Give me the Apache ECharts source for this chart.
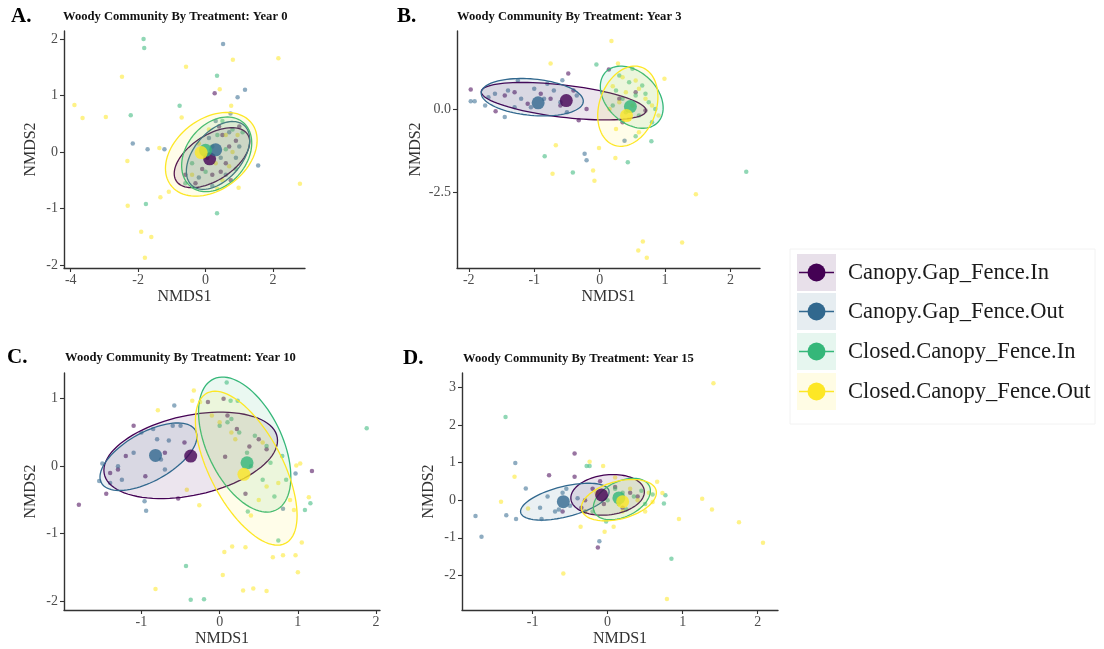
<!DOCTYPE html>
<html>
<head>
<meta charset="utf-8">
<script src="https://cdn.jsdelivr.net/npm/echarts@6/dist/echarts.min.js"></script>
<style>
  html, body { margin: 0; padding: 0; background: #fff; }
  #main { width: 1104px; height: 649px; }
</style>
</head>
<body>
<div id="main"></div>
<script>
// 分组名与颜色 (viridis)
const groups = ['Canopy.Gap_Fence.In', 'Canopy.Gap_Fence.Out', 'Closed.Canopy_Fence.In', 'Closed.Canopy_Fence.Out'];
const colors = ['#440154', '#31688E', '#35B779', '#FDE725'];

// ---- Year 0 ----
const y0GapIn = [[0.27,1.04],[0.5,0.3],[0.7,0.1],[0.2,-0.4],[-0.3,-0.55],[0.9,0.2],[0.6,-0.2],[-0.1,-0.3],[0.4,0.45],[0.75,-0.5],[0.05,-0.1],[1.0,0.45],[-0.6,-0.4],[0.45,-0.35]];
const y0GapOut = [[0.52,1.91],[1.17,1.1],[0.95,0.97],[-1.72,0.05],[-1.22,0.05],[1.56,-0.24],[-2.16,0.15],[0.74,0.68],[0.7,0.35],[0.3,0.55],[0.9,-0.1],[-0.2,-0.45],[0.45,-0.1],[1.0,0.1],[0.1,0.25],[0.6,-0.4],[0.2,-0.6]];
const y0ClosedIn = [[-1.84,2.0],[-1.82,1.84],[0.34,1.35],[-2.22,0.65],[0.34,-1.08],[-0.77,0.82],[-1.77,-0.92],[0.5,0.55],[0.8,0.4],[0.2,0.1],[0.6,0.05],[-0.4,-0.2],[0.9,-0.3],[0.0,-0.35],[0.35,0.3],[-0.6,-0.55],[1.1,0.35]];
const y0ClosedOut = [[-3.89,0.83],[-3.65,0.6],[-2.96,0.62],[-2.48,1.33],[-0.58,1.51],[0.81,1.63],[2.16,1.66],[0.42,1.11],[-0.71,0.61],[-2.32,-0.16],[-2.31,-0.95],[-1.91,-1.41],[-1.61,-1.5],[-1.8,-1.87],[-1.34,-0.8],[-1.09,-0.7],[-1.37,0.07],[0.98,-0.63],[0.76,0.82],[2.8,-0.56],[0.6,0.3],[0.3,-0.2],[0.8,0.0],[-0.2,0.15],[0.5,-0.5],[0.1,0.4],[0.95,0.3],[-0.4,-0.4],[0.35,-0.65],[0.7,-0.25]];
const y0Centroids = [[0.12,-0.12],[0.30,0.04],[0.0,0.03],[-0.13,-0.01]];
// 椭圆: [cx, cy, 半宽, 半高, 最右点的y偏移]
const y0Ellipses = [[0.19,-0.10,1.12,0.53,0.28],[0.37,-0.06,0.94,0.60,0.28],[0.33,-0.04,1.04,0.66,0.20],[0.17,-0.04,1.36,0.74,0.25]];

// ---- Year 3 ----
const y3GapIn = [[-1.97,0.58],[-0.48,1.06],[-0.32,-0.34],[-1.59,-0.07],[0.14,1.18],[-1.3,0.5],[-0.9,0.45],[-0.6,0.1],[-0.75,0.3],[-1.1,0.15],[-0.4,0.55],[-1.45,0.4],[0.3,0.3],[0.7,-0.05],[-0.2,0.0],[0.55,0.5],[0.35,-0.4]];
const y3GapOut = [[-1.97,0.23],[-1.91,0.23],[-1.75,0.1],[-1.45,-0.24],[-1.25,0.85],[-0.57,0.86],[-0.23,-1.34],[-0.2,-1.54],[0.38,-0.95],[-1.6,0.45],[-1.4,0.55],[-1.2,0.3],[-1.0,0.6],[-0.85,0.3],[-0.7,0.55],[-1.05,0.05],[-0.6,0.2],[-0.5,-0.1],[-1.3,0.05],[-0.8,0.75],[-0.35,0.4],[-1.7,0.35]];
const y3ClosedIn = [[-0.05,1.33],[-0.84,-1.42],[-0.41,-1.9],[0.43,-1.6],[0.55,-0.82],[0.79,-0.97],[2.24,-1.88],[0.3,1.0],[0.45,0.8],[0.65,0.7],[0.55,0.4],[0.35,0.3],[0.75,0.2],[0.6,-0.2],[0.25,0.55],[0.8,-0.4],[0.4,-0.1],[0.7,0.45],[0.2,0.1],[0.5,1.2],[0.85,0.0]];
const y3ClosedOut = [[0.18,2.03],[-0.75,1.36],[0.28,1.36],[0.99,0.9],[-0.67,-1.09],[-0.72,-1.94],[-0.01,-1.17],[-0.1,-1.84],[-0.08,-2.15],[0.24,-1.47],[1.47,-2.55],[0.66,-3.97],[0.59,-4.24],[0.72,-4.45],[1.26,-4.0],[0.2,0.68],[0.4,0.5],[0.6,0.6],[0.3,0.2],[0.5,0.1],[0.7,0.3],[0.45,-0.3],[0.25,-0.6],[0.6,-0.7],[0.8,0.1],[0.15,0.0],[0.55,0.85],[0.35,0.95],[0.9,-0.2]];
const y3Centroids = [[-0.51,0.25],[-0.94,0.18],[0.47,0.07],[0.41,-0.20]];
const y3Ellipses = [[-0.55,0.23,1.26,0.56,-0.28],[-1.03,0.35,0.78,0.56,-0.12],[0.49,0.35,0.48,0.93,-0.32],[0.43,0.08,0.46,1.20,0.28]];

// ---- Year 10 ----
const y10GapIn = [[-1.8,-0.57],[-1.45,-0.41],[1.18,-0.07],[-0.53,-0.48],[0.33,-0.41],[0.22,0.55],[0.07,0.14],[0.38,0.29],[-1.1,0.6],[-1.3,-0.05],[-0.95,-0.15],[-0.7,0.2],[-0.45,0.35],[0.1,0.75],[0.5,0.4],[-1.2,0.15],[0.6,0.25],[0.05,1.0],[-0.15,0.95],[-1.4,-0.1]];
const y10GapOut = [[-1.5,0.04],[-1.54,-0.22],[-0.96,-0.52],[-0.94,-0.66],[-0.58,0.9],[0.81,-0.63],[0.97,-0.11],[-1.0,0.5],[-0.85,0.55],[-0.6,0.6],[-0.65,0.38],[-1.1,0.2],[-0.75,0.1],[-1.25,-0.2],[-0.5,0.6],[-1.4,-0.25],[-0.8,0.4],[-1.3,0.0],[-0.7,-0.05]];
const y10ClosedIn = [[1.88,0.56],[0.09,1.24],[-0.43,-1.48],[-0.37,-1.98],[-0.2,-1.97],[0.75,-1.1],[1.16,-0.55],[1.09,-0.65],[0.36,-0.67],[0.14,0.97],[0.23,0.97],[0.0,0.6],[0.1,0.65],[0.25,0.5],[0.45,0.45],[0.6,0.3],[0.8,0.15],[0.85,-0.2],[0.7,-0.45],[0.4,0.0],[0.15,0.7],[0.55,-0.2],[0.35,0.2],[0.65,0.05]];
const y10ClosedOut = [[-0.82,-1.82],[-0.33,1.12],[-0.79,0.83],[0.06,-1.27],[0.16,-1.19],[0.33,-1.2],[0.04,-1.61],[0.3,-1.84],[0.43,-1.81],[0.6,-1.85],[0.68,-1.35],[0.81,-1.32],[0.97,-1.32],[1.0,-1.57],[1.05,-1.13],[1.14,-0.46],[0.98,0.01],[1.03,0.04],[-0.42,-0.35],[-0.26,-0.58],[0.4,-0.73],[-0.25,0.95],[-0.1,0.75],[0.0,0.65],[0.15,0.5],[0.55,0.35],[0.6,-0.3],[0.75,-0.25],[0.9,-0.5],[0.5,-0.5],[-0.35,0.97],[0.2,0.4],[0.95,-0.65]];
const y10Centroids = [[-0.37,0.15],[-0.82,0.16],[0.35,0.05],[0.31,-0.12]];
const y10Ellipses = [[-0.37,0.16,1.11,0.64,0.22],[-0.91,0.14,0.62,0.50,0.30],[0.32,0.32,0.59,1.0,-0.48],[0.34,-0.03,0.65,1.14,-0.70]];

// ---- Year 15 ----
const y15GapIn = [[-0.44,1.24],[-0.78,0.66],[-0.44,0.62],[-0.13,-1.26],[-0.35,-0.2],[-0.2,0.3],[0.1,0.35],[-0.05,-0.1],[0.3,0.2],[0.2,-0.2],[-0.6,-0.3],[-0.3,0.0],[0.4,0.1],[-0.1,0.5]];
const y15GapOut = [[-1.76,-0.42],[-1.68,-0.97],[-1.23,0.99],[-1.22,-0.5],[-1.09,0.31],[-0.88,-0.5],[-0.11,-1.09],[-0.8,0.1],[-0.7,-0.3],[-0.6,0.2],[-0.5,-0.15],[-0.4,0.05],[-0.9,-0.2],[-0.3,-0.3],[-0.55,0.3],[-1.35,-0.4],[-0.65,-0.25]];
const y15ClosedIn = [[-1.36,2.21],[-0.28,0.91],[-0.24,0.91],[0.85,-1.56],[0.77,0.13],[0.75,-0.09],[-0.02,-0.57],[0.1,0.3],[0.2,0.2],[0.35,0.1],[0.45,0.25],[0.5,-0.1],[0.0,0.0],[0.25,-0.25],[0.6,0.15],[-0.2,-0.3],[0.15,-0.1]];
const y15ClosedOut = [[1.41,3.11],[-1.24,0.62],[-1.42,-0.04],[-1.06,-0.22],[-0.59,-1.95],[0.79,-2.63],[2.07,-1.13],[1.75,-0.59],[1.39,-0.25],[1.26,0.04],[0.95,-0.5],[-0.24,1.02],[-0.06,0.91],[-0.36,-0.71],[-0.04,-0.84],[0.08,-0.71],[0.66,0.49],[0.73,0.19],[0.3,0.3],[0.4,0.0],[0.2,-0.3],[0.55,0.2],[-0.15,0.2],[0.1,0.6],[0.5,-0.3],[-0.3,-0.3],[0.6,-0.05]];
const y15Centroids = [[-0.08,0.14],[-0.59,-0.04],[0.15,0.06],[0.20,-0.04]];
const y15Ellipses = [[0.0,0.14,0.49,0.54,0.08],[-0.57,-0.04,0.59,0.49,0.26],[0.19,0.03,0.38,0.55,0.22],[0.15,0.0,0.50,0.55,0.20]];

// 刻度标签
const ticksX = [[-4,-2,0,2],[-2,-1,0,1,2],[-1,0,1,2],[-1,0,1,2]];
const ticksY = [[-2,-1,0,1,2],[-2.5,0],[-2,-1,0,1],[-2,-1,0,1,2,3]];

const FONT = '"Liberation Serif", "DejaVu Serif", serif';

const panels = [
  { tag: 'A.', title: 'Woody Community By Treatment: Year 0', pts: [y0GapIn, y0GapOut, y0ClosedIn, y0ClosedOut], cen: y0Centroids, ell: y0Ellipses,
    grid: { left: 64, top: 31, width: 241, height: 237 }, x: [-4.2, 2.95], y: [-2.05, 2.14], tagPos: [11, 17], titlePos: [63, 17], yDec: 0 },
  { tag: 'B.', title: 'Woody Community By Treatment: Year 3', pts: [y3GapIn, y3GapOut, y3ClosedIn, y3ClosedOut], cen: y3Centroids, ell: y3Ellipses,
    grid: { left: 457, top: 31, width: 303, height: 237 }, x: [-2.18, 2.45], y: [-4.76, 2.33], tagPos: [397, 17], titlePos: [457, 17], yDec: 1 },
  { tag: 'C.', title: 'Woody Community By Treatment: Year 10', pts: [y10GapIn, y10GapOut, y10ClosedIn, y10ClosedOut], cen: y10Centroids, ell: y10Ellipses,
    grid: { left: 64, top: 373, width: 316, height: 237 }, x: [-1.99, 2.05], y: [-2.13, 1.38], tagPos: [7, 358], titlePos: [65, 358], yDec: 0 },
  { tag: 'D.', title: 'Woody Community By Treatment: Year 15', pts: [y15GapIn, y15GapOut, y15ClosedIn, y15ClosedOut], cen: y15Centroids, ell: y15Ellipses,
    grid: { left: 462, top: 373, width: 316, height: 237 }, x: [-1.94, 2.27], y: [-2.92, 3.38], tagPos: [403, 359], titlePos: [463, 359], yDec: 0 }
];

function rgba(hex, a) {
  const n = parseInt(hex.slice(1), 16);
  return 'rgba(' + (n >> 16 & 255) + ',' + (n >> 8 & 255) + ',' + (n & 255) + ',' + a + ')';
}

const grids = [], xAxes = [], yAxes = [], series = [], graphics = [];
const axisCommon = {
  axisLine: { show: true, onZero: false, lineStyle: { color: '#333', width: 1.4 } },
  axisTick: { show: true, length: 4, lineStyle: { color: '#333', width: 1.1 } },
  splitLine: { show: false },
  nameLocation: 'middle',
  nameTextStyle: { fontFamily: FONT, fontSize: 16, color: '#333' }
};

panels.forEach((p, i) => {
  grids.push(p.grid);
  xAxes.push(Object.assign({}, axisCommon, {
    type: 'value', gridIndex: i, min: p.x[0], max: p.x[1], name: 'NMDS1', nameGap: 21,
    axisTick: Object.assign({}, axisCommon.axisTick, { customValues: ticksX[i] }),
    axisLabel: { customValues: ticksX[i], margin: 5, fontFamily: FONT, fontSize: 14, color: '#4d4d4d', formatter: v => String(v) }
  }));
  yAxes.push(Object.assign({}, axisCommon, {
    type: 'value', gridIndex: i, min: p.y[0], max: p.y[1], name: 'NMDS2', nameGap: p.yDec ? 33 : 25,
    axisTick: Object.assign({}, axisCommon.axisTick, { customValues: ticksY[i] }),
    axisLabel: { customValues: ticksY[i], margin: 6, fontFamily: FONT, fontSize: 14, color: '#4d4d4d', formatter: v => v.toFixed(p.yDec) }
  }));

  // 散点
  p.pts.forEach((d, g) => {
    series.push({
      type: 'scatter', xAxisIndex: i, yAxisIndex: i, data: d, symbol: 'circle', symbolSize: 4.5,
      itemStyle: { color: colors[g], opacity: 0.55 }, silent: true, z: 2
    });
  });
  // 置信椭圆
  p.ell.forEach((e, g) => {
    series.push({
      type: 'custom', xAxisIndex: i, yAxisIndex: i, data: [e], encode: { x: 0, y: 1 }, silent: true, z: 3,
      renderItem: function (params, api) {
        const cx = api.value(0), cy = api.value(1), hw = api.value(2), hh = api.value(3), ar = api.value(4);
        const b = Math.sqrt(Math.max(hh * hh - ar * ar, 0));
        const points = [];
        for (let k = 0; k <= 90; k++) {
          const t = k / 90 * Math.PI * 2;
          points.push(api.coord([cx + hw * Math.cos(t), cy + ar * Math.cos(t) + b * Math.sin(t)]));
        }
        return { type: 'polygon', shape: { points: points }, style: { fill: rgba(colors[g], 0.1), stroke: colors[g], lineWidth: 1.3 } };
      }
    });
  });
  // 组中心
  series.push({
    type: 'scatter', xAxisIndex: i, yAxisIndex: i, symbol: 'circle', symbolSize: 13, silent: true, z: 5,
    data: p.cen.map((c, g) => ({ value: c, itemStyle: { color: colors[g] } }))
  });

  graphics.push({ type: 'text', x: p.tagPos[0], y: p.tagPos[1], style: { text: p.tag, font: 'bold 21px ' + FONT, fill: '#000', verticalAlign: 'middle' } });
  graphics.push({ type: 'text', x: p.titlePos[0], y: p.titlePos[1], style: { text: p.title, font: 'bold 12.6px ' + FONT, fill: '#111', verticalAlign: 'middle' } });
});

// 图例
const legendTop = [254, 293, 333, 373];
graphics.push({ type: 'rect', shape: { x: 790, y: 249, width: 305, height: 175 }, style: { fill: 'none', stroke: '#f2f2f2', lineWidth: 1 } });
groups.forEach((name, g) => {
  const ty = legendTop[g];
  graphics.push({ type: 'rect', shape: { x: 797, y: ty, width: 39, height: 37 }, style: { fill: rgba(colors[g], 0.12) } });
  graphics.push({ type: 'line', shape: { x1: 799, y1: ty + 18.5, x2: 834, y2: ty + 18.5 }, style: { stroke: colors[g], lineWidth: 1.6 } });
  graphics.push({ type: 'circle', shape: { cx: 816.5, cy: ty + 18.5, r: 9 }, style: { fill: colors[g] } });
  graphics.push({ type: 'text', x: 848, y: ty + 19, style: { text: name, font: '22.5px ' + FONT, fill: '#1a1a1a', verticalAlign: 'middle' } });
});

const chart = echarts.init(document.getElementById('main'));
chart.setOption({
  backgroundColor: '#fff',
  animation: false,
  grid: grids,
  xAxis: xAxes,
  yAxis: yAxes,
  series: series,
  graphic: graphics
});
</script>
</body>
</html>
